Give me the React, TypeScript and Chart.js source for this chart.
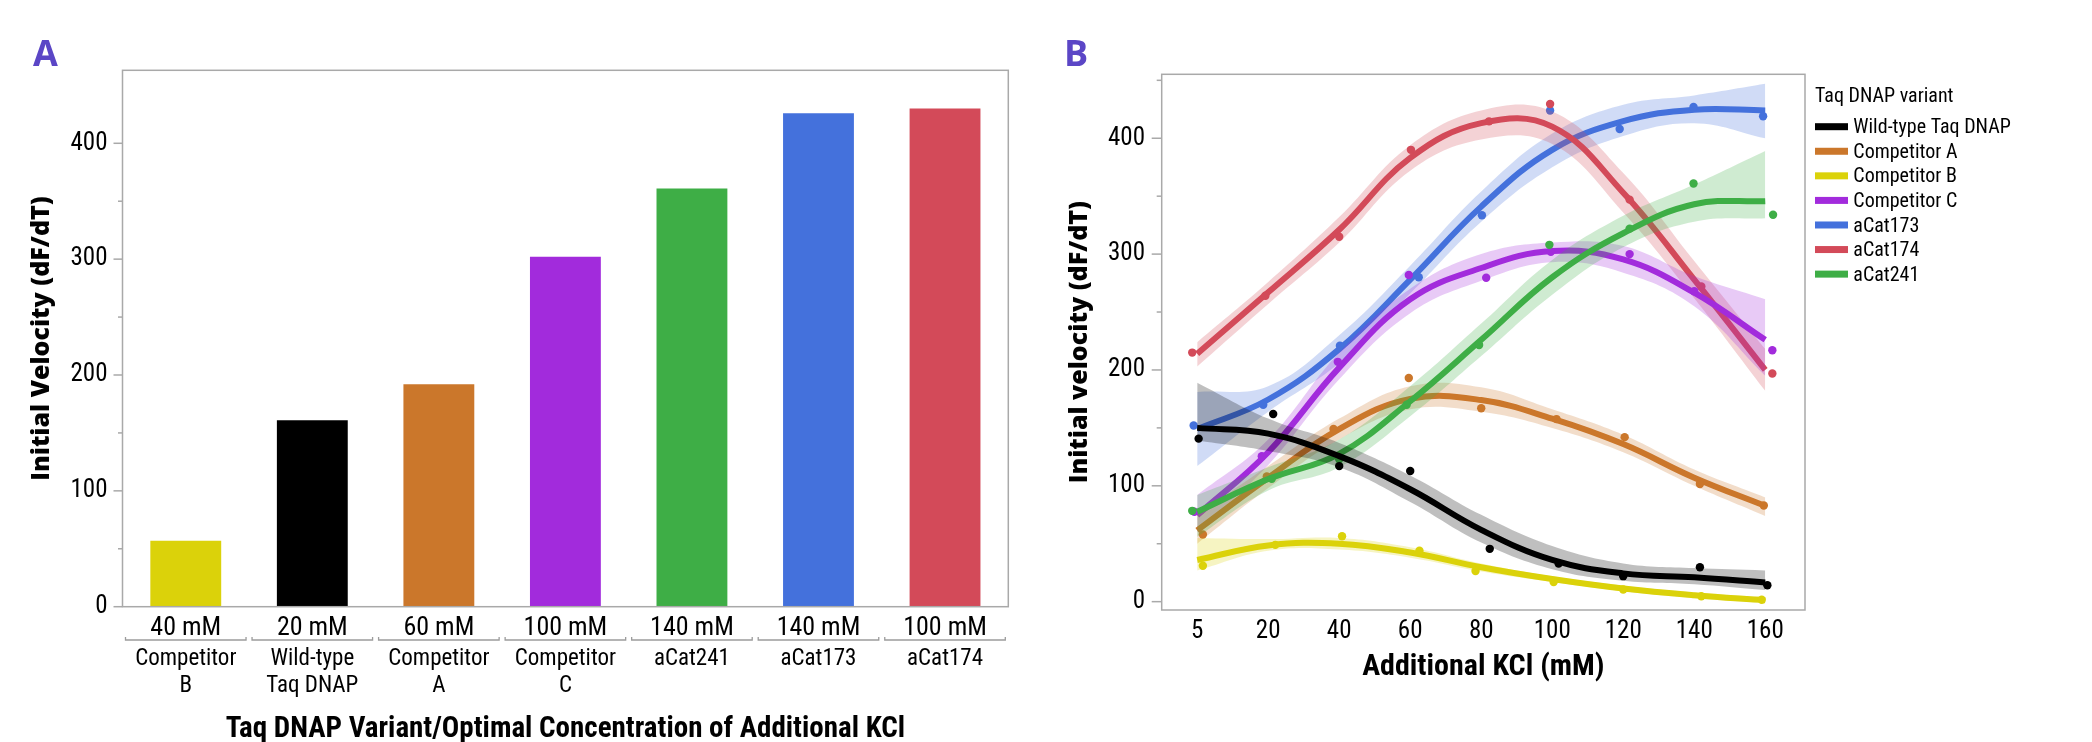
import React, { useEffect, useRef } from 'react';
import { Chart, registerables } from 'chart.js';

Chart.register(...registerables);

const NARROW = '"Liberation Sans Narrow", "Roboto Condensed", "DejaVu Sans Condensed", Roboto, sans-serif';
const HEAVY = '"Open Sans", Roboto, sans-serif';
const FRAME_COLOR = '#a9a9a9';
const PANEL_LABEL_COLOR = '#5b46c6';

// ---------------- Panel A data ----------------
const barConcentrations = ['40 mM', '20 mM', '60 mM', '100 mM', '140 mM', '140 mM', '100 mM'];
const barVariants = [['Competitor', 'B'], ['Wild-type', 'Taq DNAP'], ['Competitor', 'A'], ['Competitor', 'C'], ['aCat241'], ['aCat173'], ['aCat174']];
const barValues = [57, 161, 192, 302, 361, 426, 430];
const barColors = ['#dbd20a', '#000000', '#cb772b', '#a22bdc', '#3eae46', '#4471dc', '#d34a59'];

// ---------------- Panel B data ----------------
const kclLevels = ['5', '20', '40', '60', '80', '100', '120', '140', '160'];
const seriesNames = ['Wild-type Taq DNAP', 'Competitor A', 'Competitor B', 'Competitor C', 'aCat173', 'aCat174', 'aCat241'];
const seriesColors = ['#000000', '#cb772b', '#dbd20a', '#a22bdc', '#4471dc', '#d34a59', '#3eae46'];
// drawing rank (0 = bottom) for each series
const seriesRank = [6, 3, 5, 2, 0, 1, 4];

// smoothed fit at each KCl level
const fitWT = [150, 145, 125.6, 97, 62, 36, 24.4, 21, 16.6];
const fitA = [61.6, 107, 149, 175, 174, 158, 136, 107, 82.6];
const fitB = [36, 48.5, 50, 42.4, 29.7, 19.5, 11.3, 5.5, 1.2];
const fitC = [74.5, 129, 202, 261, 288, 302.6, 295.4, 266.7, 226];
const fit173 = [149, 174.5, 218, 278, 341, 390, 414.7, 424.7, 424];
const fit174 = [214, 267, 321, 383, 413, 410, 353, 278, 200];
const fit241 = [77.6, 105.8, 127.6, 173, 226, 280, 318, 343, 345.7];

// confidence band, upper edge
const upWT = [189, 158, 137, 109, 75, 48, 33, 29, 27];
const upA = [75, 117, 158, 186, 185, 166, 144, 114, 90];
const upB = [55, 54, 55, 47, 33, 22, 14, 8, 4];
const upC = [92, 140, 215, 270, 300, 310, 307, 281, 261];
const up173 = [181, 186, 230, 290, 354, 404, 429, 437, 447];
const up174 = [224, 276, 332, 394, 424, 423, 370, 294, 218];
const up241 = [92, 116, 140, 186, 240, 295, 333, 360, 389];

// confidence band, lower edge
const loWT = [139, 130, 116, 86, 51, 28, 18, 15, 10];
const loA = [50, 98, 140, 166, 164, 150, 129, 100, 74];
const loB = [27, 44, 45, 38, 26, 17, 9, 3, -1];
const loC = [60, 118, 192, 249, 277, 293, 284, 255, 195];
const lo173 = [117, 164, 206, 266, 328, 375, 402, 413, 400];
const lo174 = [203, 257, 310, 372, 399, 395, 336, 262, 182];
const lo241 = [56, 96, 116, 160, 212, 265, 306, 328, 331];

// observed points (x = KCl level index with jitter, y = velocity)
const ptxWT = [0.02, 1.07, 2.0, 3.0, 4.12, 5.09, 6.0, 7.08, 8.03];
const ptyWT = [140.7, 162, 117, 112.8, 45.6, 33, 22, 29.7, 14.2];
const ptxA = [0.08, 0.98, 1.92, 2.98, 4.0, 5.06, 6.02, 7.08, 7.98];
const ptyA = [58, 108, 149, 193, 167, 157.6, 142, 101.5, 83];
const ptxB = [0.08, 1.1, 2.04, 3.13, 3.92, 5.02, 6.0, 7.1, 7.95];
const ptyB = [31, 49, 56.4, 44, 26.5, 17, 10.5, 4.7, 1.7];
const ptxC = [-0.04, 0.91, 1.98, 2.98, 4.07, 4.98, 6.09, 7.0, 8.1];
const ptyC = [77.6, 125.5, 207, 282, 279.6, 302, 300, 268, 217];
const ptx173 = [-0.05, 0.93, 2.01, 3.12, 4.01, 4.97, 5.95, 6.99, 7.97];
const pty173 = [152, 170, 221, 280, 333.6, 424, 408, 427, 419];
const ptx174 = [-0.07, 0.96, 2.0, 3.01, 4.11, 4.97, 6.09, 7.1, 8.1];
const pty174 = [215, 264, 315, 390, 414.6, 429.6, 347, 272, 197];
const ptx241 = [-0.07, 1.05, 2.0, 2.95, 3.97, 4.96, 6.09, 6.99, 8.11];
const pty241 = [78.4, 106, 123, 170, 221.5, 308, 322, 361, 334];

const fits = [fitWT, fitA, fitB, fitC, fit173, fit174, fit241];
const uppers = [upWT, upA, upB, upC, up173, up174, up241];
const lowers = [loWT, loA, loB, loC, lo173, lo174, lo241];
const pointXs = [ptxWT, ptxA, ptxB, ptxC, ptx173, ptx174, ptx241];
const pointYs = [ptyWT, ptyA, ptyB, ptyC, pty173, pty174, pty241];

const hexToRgba = (hex: string, a: number) => {
  const n = parseInt(hex.slice(1), 16);
  return `rgba(${(n >> 16) & 255},${(n >> 8) & 255},${n & 255},${a})`;
};

const drawRotatedTitle = (ctx: CanvasRenderingContext2D, text: string, cx: number, cy: number, font: string) => {
  ctx.save();
  ctx.translate(cx, cy);
  ctx.rotate(-Math.PI / 2);
  ctx.font = font;
  ctx.fillStyle = '#000';
  ctx.textAlign = 'center';
  ctx.textBaseline = 'middle';
  ctx.fillText(text, 0, 0);
  ctx.restore();
};

const drawYTicks = (ctx: CanvasRenderingContext2D, scale: any, left: number, major: number, minor: number) => {
  ctx.strokeStyle = FRAME_COLOR;
  ctx.lineWidth = 1.5;
  scale.ticks.forEach((t: any) => {
    const py = scale.getPixelForValue(t.value);
    const len = t.value % 100 === 0 ? major : minor;
    ctx.beginPath();
    ctx.moveTo(left - len, py);
    ctx.lineTo(left, py);
    ctx.stroke();
  });
};

const panelAPlugin = {
  id: 'panelADecor',
  afterDraw(chart: any) {
    const { ctx, chartArea: ca } = chart;
    const x = chart.scales.x;
    const y = chart.scales.y;
    ctx.save();
    drawYTicks(ctx, y, ca.left, 9, 4.5);
    ctx.strokeStyle = FRAME_COLOR;
    ctx.lineWidth = 1.5;
    ctx.strokeRect(ca.left, ca.top, ca.right - ca.left, ca.bottom - ca.top);

    const step = x.getPixelForValue(1) - x.getPixelForValue(0);
    ctx.fillStyle = '#000';
    ctx.textAlign = 'center';
    ctx.textBaseline = 'alphabetic';
    barConcentrations.forEach((c, i) => {
      const px = x.getPixelForValue(i);
      ctx.font = `26px ${NARROW}`;
      ctx.fillText(c, px, ca.bottom + 28.3);
      const l = px - step / 2 + 3;
      const r = px + step / 2 - 3;
      const by = ca.bottom + 33.3;
      ctx.strokeStyle = '#9c9c9c';
      ctx.lineWidth = 1.3;
      ctx.beginPath();
      ctx.moveTo(l, by - 3);
      ctx.lineTo(l, by);
      ctx.lineTo(r, by);
      ctx.lineTo(r, by - 3);
      ctx.stroke();
      ctx.font = `23px ${NARROW}`;
      barVariants[i].forEach((line, k) => ctx.fillText(line, px, ca.bottom + 58.6 + k * 26.4));
    });

    ctx.font = `bold 29px ${NARROW}`;
    ctx.fillText('Taq DNAP Variant/Optimal Concentration of Additional KCl', (ca.left + ca.right) / 2, ca.bottom + 130);

    drawRotatedTitle(ctx, 'Initial Velocity (dF/dT)', 42, (ca.top + ca.bottom) / 2, `800 25px ${HEAVY}`);

    ctx.font = `bold 36px ${HEAVY}`;
    ctx.fillStyle = PANEL_LABEL_COLOR;
    ctx.textAlign = 'left';
    ctx.fillText('A', 33, 66);
    ctx.restore();
  },
};

const panelBPlugin = {
  id: 'panelBDecor',
  afterDraw(chart: any) {
    const { ctx, chartArea: ca } = chart;
    const y = chart.scales.y;
    ctx.save();
    drawYTicks(ctx, y, ca.left, 10, 5);
    ctx.strokeStyle = FRAME_COLOR;
    ctx.lineWidth = 1.5;
    ctx.strokeRect(ca.left, ca.top, ca.right - ca.left, ca.bottom - ca.top);

    ctx.fillStyle = '#000';
    ctx.textAlign = 'center';
    ctx.textBaseline = 'alphabetic';
    ctx.font = `bold 30px ${NARROW}`;
    ctx.fillText('Additional KCl (mM)', (ca.left + ca.right) / 2, ca.bottom + 65);

    drawRotatedTitle(ctx, 'Initial velocity (dF/dT)', 40, (ca.top + ca.bottom) / 2, `800 25px ${HEAVY}`);

    // legend
    const lx = ca.right + 10;
    ctx.textAlign = 'left';
    ctx.font = `20px ${NARROW}`;
    ctx.fillText('Taq DNAP variant', lx, ca.top + 27.4);
    seriesNames.forEach((name, i) => {
      const cy = ca.top + 52.4 + i * 24.57;
      ctx.fillStyle = seriesColors[i];
      ctx.fillRect(lx, cy - 3.5, 33, 7);
      ctx.fillStyle = '#000';
      ctx.fillText(name, lx + 38.3, ca.top + 59 + i * 24.57);
    });

    ctx.font = `bold 36px ${HEAVY}`;
    ctx.fillStyle = PANEL_LABEL_COLOR;
    ctx.fillText('B', 24, 66);
    ctx.restore();
  },
};

function buildBDatasets() {
  const datasets: any[] = [];
  seriesNames.forEach((name, i) => {
    const color = seriesColors[i];
    const base = 1000 - seriesRank[i] * 10;
    const lowerIndex = datasets.length;
    datasets.push({
      label: `${name} lower`,
      data: lowers[i].map((v, k) => ({ x: k, y: v })),
      borderWidth: 0,
      pointRadius: 0,
      fill: false,
      tension: 0.4,
      order: base,
    });
    datasets.push({
      label: `${name} band`,
      data: uppers[i].map((v, k) => ({ x: k, y: v })),
      borderWidth: 0,
      pointRadius: 0,
      fill: { target: lowerIndex },
      backgroundColor: hexToRgba(color, 0.25),
      tension: 0.4,
      order: base - 1,
    });
    datasets.push({
      label: `${name} fit`,
      data: fits[i].map((v, k) => ({ x: k, y: v })),
      borderColor: color,
      borderWidth: 6,
      pointRadius: 0,
      fill: false,
      tension: 0.4,
      order: base - 2,
    });
    datasets.push({
      label: name,
      data: pointXs[i].map((xv, k) => ({ x: xv, y: pointYs[i][k] })),
      showLine: false,
      pointRadius: 4.2,
      pointBorderWidth: 0,
      pointBackgroundColor: color,
      backgroundColor: color,
      fill: false,
      order: base - 3,
    });
  });
  return datasets;
}

export default function App() {
  const refA = useRef<HTMLCanvasElement>(null);
  const refB = useRef<HTMLCanvasElement>(null);

  useEffect(() => {
    const chartA = new Chart(refA.current as HTMLCanvasElement, {
      type: 'bar',
      data: {
        labels: barConcentrations,
        datasets: [
          {
            data: barValues,
            backgroundColor: barColors,
            borderWidth: 0,
            categoryPercentage: 1,
            barPercentage: 0.56,
          },
        ],
      },
      options: {
        responsive: false,
        animation: false,
        events: [],
        layout: { padding: { left: 0, top: 70.3, right: 31.7, bottom: 0 } },
        plugins: { legend: { display: false }, tooltip: { enabled: false } },
        scales: {
          x: {
            grid: { display: false },
            border: { display: false },
            ticks: { display: false },
            afterFit: (s: any) => { s.height = 135.3; },
          },
          y: {
            min: 0,
            max: 463,
            grid: { display: false, drawTicks: true, tickLength: 9 },
            border: { display: false },
            afterBuildTicks: (s: any) => { s.ticks = s.ticks.filter((t: any) => t.value % 50 === 0); },
            ticks: {
              stepSize: 50,
              autoSkip: false,
              padding: 6,
              color: '#000',
              font: { family: NARROW, size: 25 },
              callback: (v: any) => (Number(v) % 100 === 0 ? String(v) : ''),
            },
            afterFit: (s: any) => { s.width = 122.5; },
          },
        },
      },
      plugins: [panelAPlugin],
    } as any);

    const chartB = new Chart(refB.current as HTMLCanvasElement, {
      type: 'line',
      data: { datasets: buildBDatasets() },
      options: {
        responsive: false,
        animation: false,
        events: [],
        layout: { padding: { left: 0, top: 74.3, right: 287, bottom: 0 } },
        plugins: { legend: { display: false }, tooltip: { enabled: false } },
        scales: {
          x: {
            type: 'linear',
            min: -0.5,
            max: 8.56,
            grid: { display: false, drawTicks: false },
            border: { display: false },
            afterBuildTicks: (s: any) => {
              s.ticks = kclLevels.map((_, i) => ({ value: i }));
            },
            ticks: {
              autoSkip: false,
              maxRotation: 0,
              padding: 7,
              color: '#000',
              font: { family: NARROW, size: 25 },
              callback: (v: any) => kclLevels[Number(v)] ?? '',
            },
            afterFit: (s: any) => { s.height = 132; },
          },
          y: {
            min: -7.2,
            max: 455.2,
            grid: { display: false, drawTicks: true, tickLength: 10 },
            border: { display: false },
            afterBuildTicks: (s: any) => {
              s.ticks = [0, 50, 100, 150, 200, 250, 300, 350, 400, 450].map((v) => ({ value: v }));
            },
            ticks: {
              autoSkip: false,
              padding: 6.7,
              color: '#000',
              font: { family: NARROW, size: 25 },
              callback: (v: any) => (Number(v) % 100 === 0 ? String(v) : ''),
            },
            afterFit: (s: any) => { s.width = 121.7; },
          },
        },
      },
      plugins: [panelBPlugin],
    } as any);

    return () => {
      chartA.destroy();
      chartB.destroy();
    };
  }, []);

  return (
    <div style={{ position: 'absolute', left: 0, top: 0, width: 2092, height: 742, background: '#fff' }}>
      <canvas ref={refA} width={1040} height={742} style={{ position: 'absolute', left: 0, top: 0, width: 1040, height: 742 }} />
      <canvas ref={refB} width={1052} height={742} style={{ position: 'absolute', left: 1040, top: 0, width: 1052, height: 742 }} />
    </div>
  );
}
